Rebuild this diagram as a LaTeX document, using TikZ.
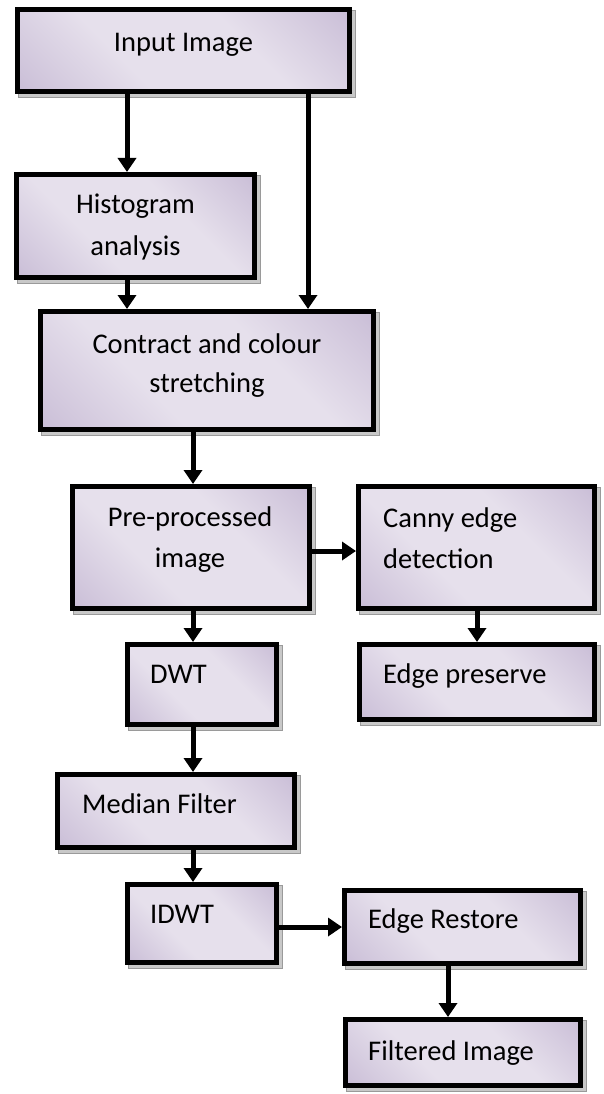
\documentclass[tikz,border=0pt]{standalone}
\usepackage{fontspec}
\setmainfont{Carlito}
\usetikzlibrary{arrows.meta}
\pgfdeclarelayer{background}
\pgfsetlayers{background,main}
\definecolor{boxdark}{HTML}{B2A1C7}
\definecolor{boxlight}{HTML}{E6E0EC}
\definecolor{boxmid}{HTML}{CEC3DA}
\definecolor{shadowfill}{HTML}{C8C8C8}
\definecolor{shadowline}{HTML}{9A9A9A}
\pgfdeclarehorizontalshading{lavshade}{100bp}{color(0bp)=(boxdark); color(18bp)=(boxmid); color(38bp)=(boxlight); color(62bp)=(boxlight); color(82bp)=(boxmid); color(100bp)=(boxdark)}
\begin{document}
\begin{tikzpicture}[x=1pt,y=-1pt,
  box/.style={rectangle, draw=black, line width=5pt, inner sep=0pt,
    shading=lavshade, shading angle=45},
  txt/.style={inner sep=0pt, font=\fontsize{28.5pt}{34pt}\selectfont},
  arr/.style={line width=5pt, -{Triangle[width=18pt,length=14pt]}},
  shadowst/.style={fill=shadowfill, draw=shadowline, line width=0.8pt}
]
\useasboundingbox (0,0) rectangle (603,1094);
% boxes (outer sizes minus line width)
\node[box, minimum width=332pt, minimum height=82pt] (input) at (183.5,50.5) {};
\node[box, minimum width=238pt, minimum height=103pt] (hist) at (135.5,226) {};
\node[box, minimum width=333pt, minimum height=118pt] (contract) at (207,370.5) {};
\node[box, minimum width=237pt, minimum height=122pt] (pre) at (191,547.5) {};
\node[box, minimum width=236pt, minimum height=122pt] (canny) at (476.5,547.5) {};
\node[box, minimum width=149pt, minimum height=80pt] (dwt) at (202,684.5) {};
\node[box, minimum width=235pt, minimum height=75pt] (pres) at (477,682) {};
\node[box, minimum width=237pt, minimum height=73pt] (median) at (176,811) {};
\node[box, minimum width=149pt, minimum height=78pt] (idwt) at (202,923.5) {};
\node[box, minimum width=236pt, minimum height=73pt] (restore) at (462.5,927) {};
\node[box, minimum width=235pt, minimum height=66pt] (filtered) at (463,1052.5) {};
% shadows
\begin{pgfonlayer}{background}
\foreach \n in {input,hist,contract,pre,canny,dwt,pres,median,idwt,restore,filtered}{
  \draw[shadowst] ([xshift=3pt,yshift=-3pt]\n.south west) rectangle ([xshift=3pt,yshift=-3pt]\n.north east);
}
\end{pgfonlayer}
% texts
\node[txt, anchor=base] (tinput) at (183.5,52) {Input Image};
\node[txt, anchor=base] (thist1) at (135.5,213) {Histogram};
\node[txt, anchor=base] (thist2) at (135.5,255) {analysis};
\node[txt, anchor=base] (tcon1) at (207,353) {Contract and colour};
\node[txt, anchor=base] (tcon2) at (207,392) {stretching};
\node[txt, anchor=base] (tpre1) at (190,526) {Pre-processed};
\node[txt, anchor=base] (tpre2) at (190,567) {image};
\node[txt, anchor=base west] (tcan1) at (383,527) {Canny edge};
\node[txt, anchor=base west] (tcan2) at (383,568) {detection};
\node[txt, anchor=base west] (tdwt) at (150,683) {DWT};
\node[txt, anchor=base west] (tpres) at (383,683) {Edge preserve};
\node[txt, anchor=base west] (tmed) at (82,813) {Median Filter};
\node[txt, anchor=base west] (tidwt) at (150,923) {IDWT};
\node[txt, anchor=base west] (trest) at (368,928) {Edge Restore};
\node[txt, anchor=base west] (tfilt) at (368,1060) {Filtered Image};
% guide coordinates for connectors
\coordinate (c1) at (127,0);
\coordinate (c2) at (308,0);
\coordinate (c3) at (193,0);
\coordinate (c4) at (477,0);
\coordinate (c5) at (448,0);
\coordinate (r1) at (0,551);
\coordinate (r2) at (0,927);
% connectors
\draw[arr] (input.south -| c1) -- (hist.north -| c1);
\draw[arr] (input.south -| c2) -- (contract.north -| c2);
\draw[arr] (hist.south -| c1) -- (contract.north -| c1);
\draw[arr] (contract.south -| c3) -- (pre.north -| c3);
\draw[arr] (pre.east |- r1) -- (canny.west |- r1);
\draw[arr] (pre.south -| c3) -- (dwt.north -| c3);
\draw[arr] (canny.south -| c4) -- (pres.north -| c4);
\draw[arr] (dwt.south -| c3) -- (median.north -| c3);
\draw[arr] (median.south -| c3) -- (idwt.north -| c3);
\draw[arr] (idwt.east |- r2) -- (restore.west |- r2);
\draw[arr] (restore.south -| c5) -- (filtered.north -| c5);
\end{tikzpicture}
\end{document}
